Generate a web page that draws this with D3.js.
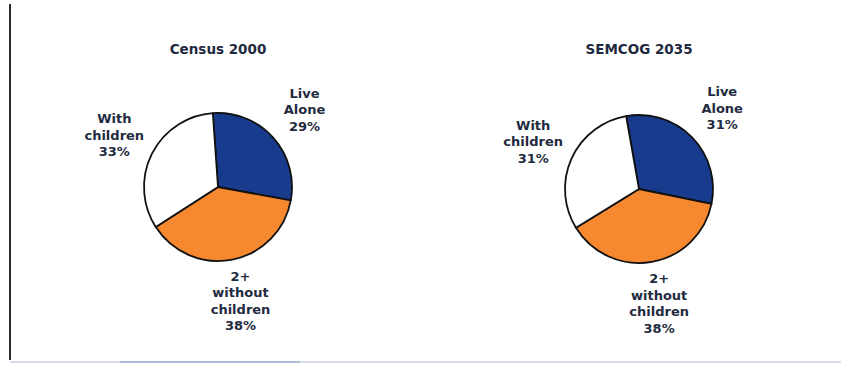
<!DOCTYPE html>
<html>
<head>
<meta charset="utf-8">
<script src="https://cdn.jsdelivr.net/npm/d3@7"></script>
<style>
  html, body { margin: 0; padding: 0; background: #fff; }
  svg { display: block; }
</style>
</head>
<body>
<svg id="chart" width="841" height="368"></svg>
<script>
// Household types, share of households (%)
const categories = ["Live Alone", "2+ without children", "With children"];
const labelLines = [["Live", "Alone"], ["2+", "without", "children"], ["With", "children"]];
const census2000 = [29, 38, 33];
const semcog2035 = [31, 38, 31];
const pieTitles = ["Census 2000", "SEMCOG 2035"];

const W = 841, H = 368;
const svg = d3.select("#chart");

const color = d3.scaleOrdinal()
  .domain(categories)
  .range(["#183b8e", "#f6892f", "#ffffff"]);

const textColor = "#1f2b40";

// Frame: dark rule on the left, faint rule along the bottom
svg.append("line")
  .attr("x1", 10).attr("x2", 10).attr("y1", 4).attr("y2", 360)
  .attr("stroke", "#2b2b33").attr("stroke-width", 2);
svg.append("line")
  .attr("x1", 10).attr("x2", 841).attr("y1", 362).attr("y2", 362)
  .attr("stroke", "#d6dde8").attr("stroke-width", 2);
svg.append("line")
  .attr("x1", 120).attr("x2", 300).attr("y1", 362).attr("y2", 362)
  .attr("stroke", "#aebbd6").attr("stroke-width", 2);

const panels = [
  { title: pieTitles[0], values: census2000, cx: 218, cy: 187, r: 74, start: -4 },
  { title: pieTitles[1], values: semcog2035, cx: 639, cy: 189, r: 74, start: -10 }
];

panels.forEach(p => {
  const g = svg.append("g").attr("transform", `translate(${p.cx},${p.cy})`);

  const startRad = p.start * Math.PI / 180;
  const pie = d3.pie()
    .sort(null)
    .value(d => d.value)
    .startAngle(startRad)
    .endAngle(startRad + 2 * Math.PI);

  const data = pie(categories.map((c, i) => ({ cat: c, value: p.values[i], lines: labelLines[i] })));

  const arc = d3.arc().innerRadius(0).outerRadius(p.r);
  const labelArc = d3.arc().innerRadius(p.r + 42).outerRadius(p.r + 42);

  g.selectAll("path.slice")
    .data(data)
    .join("path")
    .attr("class", "slice")
    .attr("d", arc)
    .attr("fill", d => color(d.data.cat))
    .attr("stroke", "#111")
    .attr("stroke-width", 1.8)
    .attr("stroke-linejoin", "round");

  // Title above the pie
  svg.append("text")
    .attr("x", p.cx)
    .attr("y", 54)
    .attr("text-anchor", "middle")
    .attr("font-family", "DejaVu Sans, sans-serif")
    .attr("font-weight", "bold")
    .attr("font-size", 13.5)
    .attr("fill", textColor)
    .text(p.title);

  // Category labels with percentages
  const lh = 16.6;
  data.forEach(d => {
    const [lx, ly] = labelArc.centroid(d);
    const lines = d.data.lines.concat([d.data.value + "%"]);
    const y0 = ly - (lines.length - 1) * lh / 2;
    const t = g.append("text")
      .attr("text-anchor", "middle")
      .attr("font-family", "DejaVu Sans, sans-serif")
      .attr("font-weight", "bold")
      .attr("font-size", 13)
      .attr("fill", textColor);
    lines.forEach((ln, i) => {
      t.append("tspan")
        .attr("x", lx)
        .attr("y", y0 + i * lh)
        .attr("dy", "0.36em")
        .text(ln);
    });
  });
});
</script>
</body>
</html>
